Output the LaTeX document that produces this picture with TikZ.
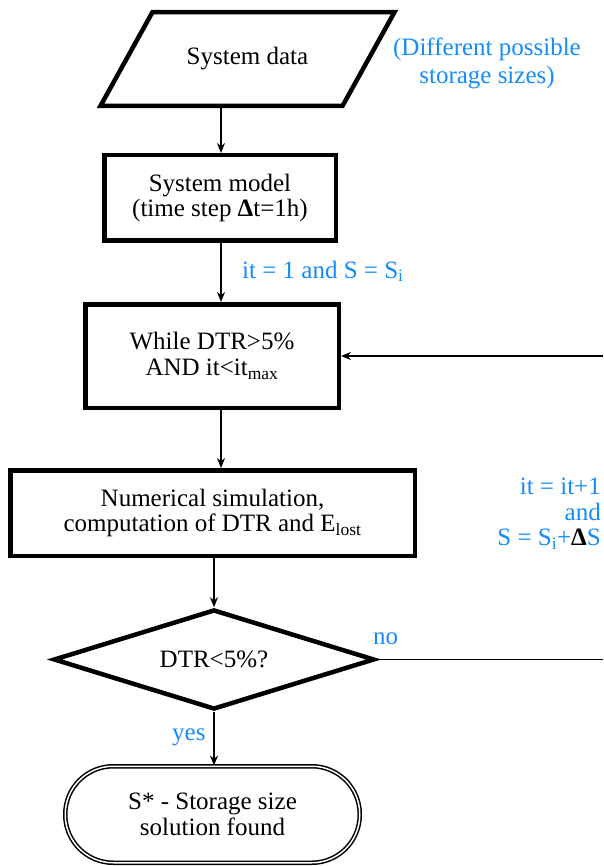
\documentclass[tikz,border=0pt]{standalone}
\usepackage{fontspec}
\setmainfont{Liberation Serif}
\usetikzlibrary{arrows.meta,shapes.geometric}
\definecolor{noteblue}{RGB}{20,140,250}

\begin{document}
\begin{tikzpicture}[x=1pt, y=-1pt, >={Stealth[length=10pt, width=8pt]},
    font=\fontsize{25}{25.5}\selectfont,
    every node/.style={inner sep=0pt, align=center},
    block/.style={draw, line width=4.5pt},
    io/.style={block, trapezium, trapezium left angle=61, trapezium right angle=119,
      trapezium stretches body, inner ysep=35.5pt, minimum width=294, minimum height=93.5},
    decision/.style={block, diamond, shape aspect=3, minimum width=321, minimum height=100},
    terminal/.style={draw, line width=1.5pt, double, double distance=1.5pt,
      rounded corners=48pt, minimum width=294.5, minimum height=96.5},
    flow/.style={->, line width=1.6pt},
    link/.style={line width=1.6pt},
    note/.style={text=noteblue}]
  \useasboundingbox (0,0) rectangle (603,866);
  % ------------------------------------------------------------------ main column
  \node[io] (data) at (247.5,59) {System data};
  \node[block, minimum width=231.5, minimum height=85.5] (model) at (220,198)
    {System model\\(time step {\bfseries Δ}t=1h)};
  \node[block, minimum width=253.5, minimum height=103.5] (loop) at (212,356)
    {While DTR>5\%\\AND it<it\textsubscript{max}};
  \node[block, minimum width=404.5, minimum height=85.5] (sim) at (212.5,513)
    {Numerical simulation,\\computation of DTR and E\textsubscript{lost}};
  \node[decision] (check) at (214,659.5) {DTR<5\%?};
  \node[terminal] (found) at (212.5,814.5) {S* - Storage size\\solution found};
  % ------------------------------------------------------------------ labels
  \node[note, font=\fontsize{25}{28}\selectfont] (sizes) at (487,63)
    {(Different possible\\storage sizes)};
  \node[note, anchor=base west] (init) at (242,278) {it = 1 and S = S\textsubscript{i}};
  \node[note, align=right, anchor=east] (update) at (601,514)
    {it = it+1\\and\\S = S\textsubscript{i}+\textcolor{black}{\bfseries Δ}S};
  \node[note, anchor=base west] (no) at (373,644) {no};
  \node[note, anchor=base west] (yes) at (172,740) {yes};
  % ------------------------------------------------------------------ connectors
  \coordinate (spine) at (221,0);
  \coordinate (back) at (603,356);
  \coordinate (out) at (603,659.5);
  \draw[flow] (data.south -| spine) -- (model.north -| spine);
  \draw[flow] (model.south -| spine) -- (loop.north -| spine);
  \draw[flow] (loop.south -| spine) -- (sim.north -| spine);
  \draw[flow] (sim.south -| check) -- (check.north);
  \draw[flow] (check.south) -- (check.south |- found.north);
  \draw[link] (check.east) -- (out);
  \draw[flow] (back) -- (loop.east);
\end{tikzpicture}
\end{document}
